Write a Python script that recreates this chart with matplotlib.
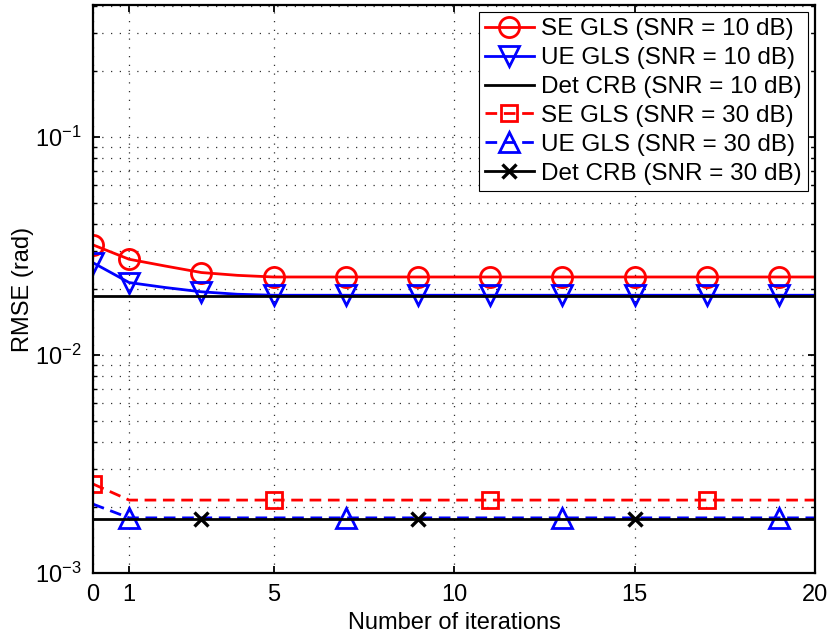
import matplotlib
matplotlib.use('Agg')
import matplotlib.pyplot as plt
from matplotlib.ticker import LogLocator, NullFormatter, FixedLocator

plt.rcParams['font.family'] = ['Liberation Sans', 'DejaVu Sans']
plt.rcParams['mathtext.fontset'] = 'custom'
plt.rcParams['mathtext.rm'] = 'Liberation Sans'
plt.rcParams['mathtext.it'] = 'Liberation Sans:italic'
plt.rcParams['mathtext.bf'] = 'Liberation Sans:bold'

# iterations 0..20
iters = [0, 1, 2, 3, 4, 5, 6, 7, 8, 9, 10, 11, 12, 13, 14, 15, 16, 17, 18, 19, 20]

# SNR = 10 dB
se_gls_10 = [0.0320, 0.0275, 0.0256, 0.0239, 0.0232, 0.0228, 0.0228, 0.0228, 0.0228, 0.0228, 0.0228,
             0.0228, 0.0228, 0.0228, 0.0228, 0.0228, 0.0228, 0.0228, 0.0228, 0.0228, 0.0228]
ue_gls_10 = [0.0265, 0.0215, 0.0204, 0.0195, 0.0190, 0.0188, 0.0188, 0.0188, 0.0188, 0.0188, 0.0188,
             0.0188, 0.0188, 0.0188, 0.0188, 0.0188, 0.0188, 0.0188, 0.0188, 0.0188, 0.0188]
crb_10 = [0.0187, 0.0187, 0.0187, 0.0187, 0.0187, 0.0187, 0.0187, 0.0187, 0.0187, 0.0187, 0.0187,
          0.0187, 0.0187, 0.0187, 0.0187, 0.0187, 0.0187, 0.0187, 0.0187, 0.0187, 0.0187]

# SNR = 30 dB
se_gls_30 = [0.00256, 0.00216, 0.00216, 0.00216, 0.00216, 0.00216, 0.00216, 0.00216, 0.00216, 0.00216, 0.00216,
             0.00216, 0.00216, 0.00216, 0.00216, 0.00216, 0.00216, 0.00216, 0.00216, 0.00216, 0.00216]
ue_gls_30 = [0.00207, 0.00179, 0.00179, 0.00179, 0.00179, 0.00179, 0.00179, 0.00179, 0.00179, 0.00179, 0.00179,
             0.00179, 0.00179, 0.00179, 0.00179, 0.00179, 0.00179, 0.00179, 0.00179, 0.00179, 0.00179]
crb_30 = [0.00177, 0.00177, 0.00177, 0.00177, 0.00177, 0.00177, 0.00177, 0.00177, 0.00177, 0.00177, 0.00177,
          0.00177, 0.00177, 0.00177, 0.00177, 0.00177, 0.00177, 0.00177, 0.00177, 0.00177, 0.00177]

labels = ['SE GLS (SNR = 10 dB)', 'UE GLS (SNR = 10 dB)', 'Det CRB (SNR = 10 dB)',
          'SE GLS (SNR = 30 dB)', 'UE GLS (SNR = 30 dB)', 'Det CRB (SNR = 30 dB)']
xticks = [0, 1, 5, 10, 15, 20]

fig = plt.figure(figsize=(8.29, 6.37), dpi=100)
ax = fig.add_axes([0.1122, 0.1005, 0.8710, 0.8915])

lw = 2.0
mw = 2.0
dash = (0, (4.2, 2.4))
odd = [0, 1, 3, 5, 7, 9, 11, 13, 15, 17, 19]

ax.plot(iters, se_gls_10, color='red', lw=lw, marker='o', ms=14.5, mfc='none', mew=mw,
        markevery=odd, label=labels[0])
ax.plot(iters, ue_gls_10, color='blue', lw=lw, marker='v', ms=14, mfc='none', mew=mw,
        markevery=odd, label=labels[1])
ax.plot(iters, crb_10, color='black', lw=lw, label=labels[2])
ax.plot(iters, se_gls_30, color='red', lw=lw, ls=dash, marker='s', ms=11.5, mfc='none', mew=mw,
        markevery=[0, 5, 11, 17], label=labels[3])
ax.plot(iters, ue_gls_30, color='blue', lw=lw, ls=dash, marker='^', ms=14, mfc='none', mew=mw,
        markevery=[1, 7, 13, 19], label=labels[4])
ax.plot(iters, crb_30, color='black', lw=lw, marker='x', ms=10, mew=2.4,
        markevery=[3, 9, 15], label=labels[5])

ax.set_yscale('log')
ax.set_ylim(1e-3, 0.403)
ax.set_xlim(0, 20)
ax.xaxis.set_major_locator(FixedLocator(xticks))
ax.yaxis.set_major_locator(LogLocator(base=10, numticks=10))
ax.yaxis.set_minor_locator(LogLocator(base=10, subs=[2, 3, 4, 5, 6, 7, 8, 9], numticks=20))
ax.yaxis.set_minor_formatter(NullFormatter())

ax.grid(True, which='major', axis='both', color='#303030', lw=0.9, ls=(0, (1, 6)))
ax.grid(True, which='minor', axis='y', color='#303030', lw=0.9, ls=(0, (1, 6)))

for sp in ax.spines.values():
    sp.set_linewidth(1.6)
ax.tick_params(which='major', direction='in', length=5, width=1.3, top=True, right=True,
               labelsize=17, pad=8)
ax.tick_params(which='minor', direction='in', length=3, width=1.0, top=True, right=True)

ax.set_xlabel('Number of iterations', fontsize=17, labelpad=4)
ax.set_ylabel('RMSE (rad)', fontsize=17)
ax.yaxis.set_label_coords(-0.082, 0.5)

leg = ax.legend(loc='upper right', fontsize=17.5, frameon=True, fancybox=False,
                edgecolor='black', framealpha=1, handlelength=2.0, handletextpad=0.3,
                labelspacing=0.28, borderpad=0.25, borderaxespad=0.3)
leg.get_frame().set_linewidth(0.8)

fig.savefig('out.png', dpi=100)
